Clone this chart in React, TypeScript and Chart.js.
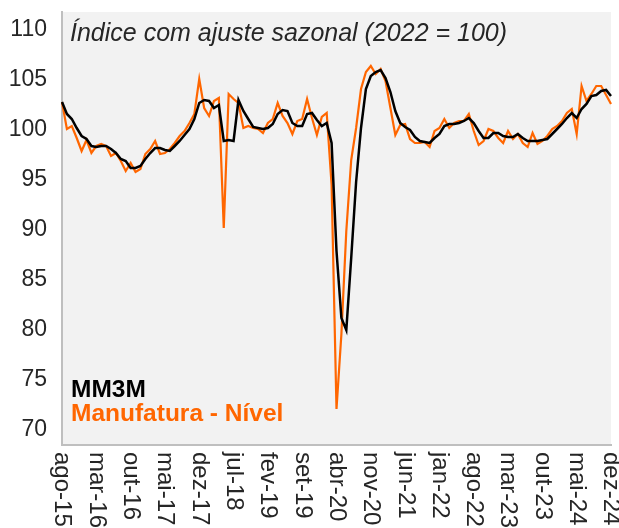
import React, { useEffect, useRef } from "react";
import { Chart, registerables } from "chart.js";

Chart.register(...registerables);

const MONTHS = ["jan", "fev", "mar", "abr", "mai", "jun", "jul", "ago", "set", "out", "nov", "dez"];

// Monthly categories: ago-15 .. dez-24
const categories: string[] = [];
for (let y = 2015; y <= 2024; y++) {
  for (let m = 0; m < 12; m++) {
    if (y === 2015 && m < 7) continue;
    categories.push(`${MONTHS[m]}-${String(y).slice(2)}`);
  }
}

const tickLabels = [
  "ago-15", "mar-16", "out-16", "mai-17", "dez-17", "jul-18", "fev-19", "set-19", "abr-20",
  "nov-20", "jun-21", "jan-22", "ago-22", "mar-23", "out-23", "mai-24", "dez-24",
];

const yTickValues = [70, 75, 80, 85, 90, 95, 100, 105, 110];

const nivel = [
  102.8, 100.1, 100.4, 99.2, 97.9, 99.0, 97.7, 98.4, 98.6, 98.4,
  97.4, 97.7, 96.9, 95.9, 96.7, 95.8, 96.1, 97.6, 98.1, 98.9,
  97.6, 97.7, 98.1, 98.7, 99.4, 99.9, 100.7, 101.6, 105.1, 102.2,
  101.4, 102.9, 103.2, 90.2, 103.6, 103.1, 102.7, 100.2, 100.4, 100.2,
  100.1, 99.7, 100.7, 101.1, 102.7, 101.4, 100.7, 99.6, 100.9, 101.1,
  103.1, 101.2, 99.5, 101.3, 101.7, 94.5, 72.1, 79.6, 89.9, 97.0,
  100.2, 104.1, 105.8, 106.4, 105.6, 106.1, 104.9, 102.2, 99.5, 100.5,
  100.6, 99.1, 98.7, 98.7, 98.8, 98.3, 99.9, 100.2, 101.1, 100.2,
  100.7, 100.9, 100.9, 101.6, 99.9, 98.5, 98.9, 100.1, 99.9, 99.2,
  98.7, 99.9, 99.1, 99.6, 98.7, 98.3, 99.7, 98.6, 98.9, 99.4,
  100.1, 100.4, 100.9, 101.7, 102.1, 99.6, 104.4, 102.9, 103.6, 104.4,
  104.4, 103.5, 102.6,
];

const mm3m = [
  102.8, 101.6, 101.1, 100.2, 99.4, 99.1, 98.4, 98.3, 98.4, 98.4,
  98.1, 97.7, 97.1, 96.9, 96.2, 96.2, 96.4, 97.1, 97.7, 98.2,
  98.2, 98.0, 97.9, 98.4, 98.9, 99.5, 100.1, 101.1, 102.7, 103.0,
  102.9, 102.2, 102.5, 98.9, 99.0, 98.9, 103.0, 101.9, 101.1, 100.3,
  100.2, 100.1, 100.2, 100.6, 101.6, 102.0, 101.9, 100.7, 100.4, 100.4,
  101.6, 101.7, 101.0, 100.4, 100.7, 98.7, 87.9, 81.2, 80.0, 87.2,
  94.8, 100.2, 104.1, 105.4, 105.8, 106.0, 105.2, 103.8, 101.9, 100.7,
  100.3, 100.0, 99.3, 98.9, 98.8, 98.7, 99.2, 99.6, 100.4, 100.6,
  100.6, 100.7, 100.9, 101.2, 100.7, 99.9, 99.2, 99.2, 99.7, 99.7,
  99.4, 99.3, 99.3, 99.6, 99.2, 98.9, 98.9, 98.9, 99.0, 99.1,
  99.6, 100.1, 100.6, 101.2, 101.7, 101.2, 102.1, 102.6, 103.4, 103.5,
  103.9, 104.0, 103.4,
];

const ORANGE = "#ff6600";
const TEXT = "#262626";
const FONT = "'Liberation Sans', Arial, sans-serif";

const bgPlugin = {
  id: "bgArea",
  beforeDraw(chart: any) {
    const { ctx, chartArea } = chart;
    ctx.save();
    ctx.fillStyle = "#f2f2f2";
    ctx.fillRect(chartArea.left, chartArea.top, chartArea.right - chartArea.left, chartArea.bottom - chartArea.top);
    ctx.restore();
  },
};

const overlayPlugin = {
  id: "overlay",
  afterDraw(chart: any) {
    const { ctx, chartArea } = chart;
    const xScale = chart.scales.x;
    ctx.save();
    // title inside plot
    ctx.fillStyle = TEXT;
    ctx.font = `italic 25px ${FONT}`;
    ctx.textAlign = "left";
    ctx.textBaseline = "alphabetic";
    ctx.fillText("Índice com ajuste sazonal (2022 = 100)", chartArea.left + 8, chartArea.top + 29);
    // legend
    ctx.font = `bold 24.5px ${FONT}`;
    ctx.fillStyle = "#000000";
    ctx.fillText("MM3M", chartArea.left + 9, 397);
    ctx.fillStyle = ORANGE;
    ctx.fillText("Manufatura - Nível", chartArea.left + 9, 421);
    // x labels rotated (top-to-bottom)
    ctx.fillStyle = TEXT;
    ctx.font = `24px ${FONT}`;
    ctx.textAlign = "left";
    ctx.textBaseline = "middle";
    for (const lab of tickLabels) {
      const idx = categories.indexOf(lab);
      if (idx < 0) continue;
      const x = xScale.getPixelForValue(idx);
      ctx.save();
      ctx.translate(x, chartArea.bottom + 7);
      ctx.rotate(Math.PI / 2);
      ctx.fillText(lab, 0, 0);
      ctx.restore();
    }
    ctx.restore();
  },
};

export default function App() {
  const ref = useRef<HTMLCanvasElement | null>(null);

  useEffect(() => {
    if (!ref.current) return;
    const chart = new Chart(ref.current, {
      type: "line",
      data: {
        labels: categories,
        datasets: [
          {
            label: "MM3M",
            data: mm3m,
            borderColor: "#000000",
            borderWidth: 2.5,
            pointRadius: 0,
            tension: 0,
            order: 0,
          },
          {
            label: "Manufatura - Nível",
            data: nivel,
            borderColor: ORANGE,
            borderWidth: 2.2,
            pointRadius: 0,
            tension: 0,
            order: 1,
          },
        ],
      },
      options: {
        responsive: false,
        animation: false,
        layout: { padding: { top: 12, right: 8, left: 0, bottom: 0 } },
        plugins: {
          legend: { display: false },
          title: { display: false },
          tooltip: { enabled: false },
        },
        scales: {
          x: {
            type: "category",
            offset: false,
            grid: { display: false, drawTicks: false },
            border: { display: true, color: "#bfbfbf", width: 2 },
            ticks: { display: false },
            afterFit(scale: any) {
              scale.height = 83;
              scale.paddingLeft = 0;
              scale.paddingRight = 0;
            },
          },
          y: {
            type: "linear",
            min: 68.5,
            max: 111.8,
            grid: { display: false, drawTicks: false },
            border: { display: true, color: "#bfbfbf", width: 2 },
            ticks: {
              padding: 15,
              color: TEXT,
              font: { family: FONT, size: 23 },
            },
            afterBuildTicks(scale: any) {
              scale.ticks = yTickValues.map((v) => ({ value: v }));
            },
            afterFit(scale: any) {
              scale.width = 62;
              scale.paddingTop = 0;
              scale.paddingBottom = 0;
            },
          },
        },
      },
      plugins: [bgPlugin, overlayPlugin],
    });
    return () => chart.destroy();
  }, []);

  return (
    <div style={{ position: "fixed", left: 0, top: 0, width: 619, height: 528, background: "#ffffff" }}>
      <canvas ref={ref} width={619} height={528} style={{ display: "block", width: 619, height: 528 }} />
    </div>
  );
}
